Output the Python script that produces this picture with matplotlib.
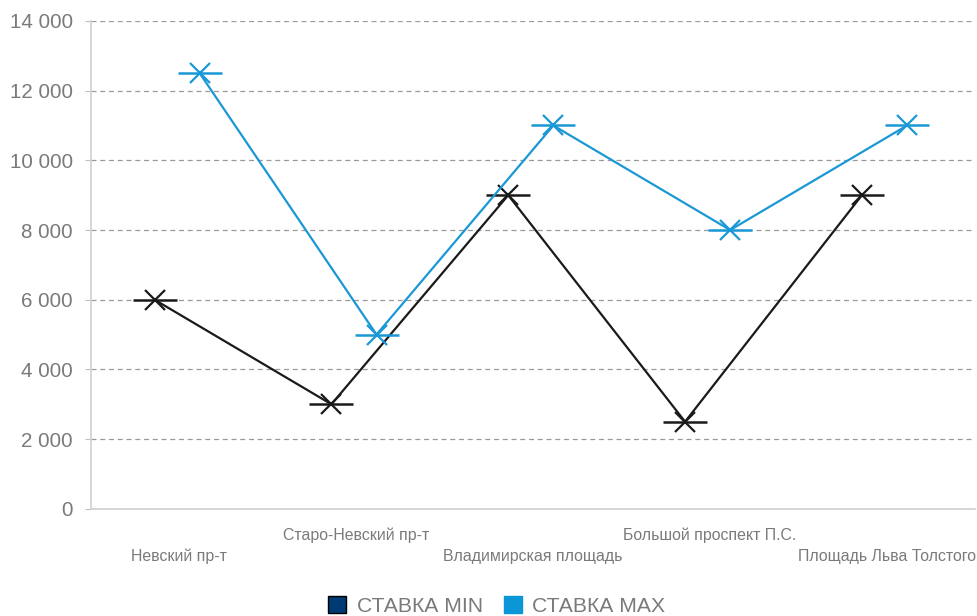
import matplotlib
matplotlib.use("Agg")
import matplotlib.pyplot as plt
import matplotlib.transforms as mtransforms
from matplotlib.patches import Patch
import numpy as np

plt.rcParams['font.family'] = ['Liberation Sans', 'DejaVu Sans']

# данные
categories = ["Невский пр-т", "Старо-Невский пр-т", "Владимирская площадь",
              "Большой проспект П.С.", "Площадь Льва Толстого"]
stavka_min = [6000, 3000, 9000, 2500, 9000]
stavka_max = [12500, 5000, 11000, 8000, 11000]
y_ticks = [0, 2000, 4000, 6000, 8000, 10000, 12000, 14000]

col_min = "#1a1a1a"
col_max = "#1a98d5"
gray = "#7a7a7a"

fig = plt.figure(figsize=(9.78, 6.16), dpi=100)
ax = fig.add_axes([0.093, 0.174, 0.904, 0.792])

x = np.arange(len(categories))
off_min, off_max = -0.14, 0.115

# линии + маркеры (крест и горизонтальная черта)
ax.plot(x + off_min, stavka_min, color=col_min, lw=1.6, marker='x', ms=14, mew=1.6, zorder=3)
ax.plot(x + off_min, stavka_min, ls='none', color=col_min, marker='_', ms=32, mew=1.8, zorder=3)
ax.plot(x + off_max, stavka_max, color=col_max, lw=1.6, marker='x', ms=14, mew=1.6, zorder=4)
ax.plot(x + off_max, stavka_max, ls='none', color=col_max, marker='_', ms=32, mew=1.8, zorder=4)

ax.set_xlim(-0.5, len(categories) - 0.5)
ax.set_ylim(0, 14000)
ax.set_yticks(y_ticks)
ax.set_yticklabels([f"{v:,.0f}".replace(",", " ") for v in y_ticks], fontsize=14.8, color=gray)
ax.yaxis.grid(True, ls=(0, (4, 3)), color="#9a9a9a", lw=0.9)
ax.set_axisbelow(True)

ax.set_xticks([])
ax.tick_params(axis='y', length=4, color="#bfbfbf", pad=9)
for s in ['top', 'right']:
    ax.spines[s].set_visible(False)
ax.spines['left'].set_color("#d0d0d0")
ax.spines['bottom'].set_color("#d0d0d0")
ax.spines['left'].set_linewidth(1.2)
ax.spines['bottom'].set_linewidth(1.2)

# подписи категорий в шахматном порядке
trans = mtransforms.blended_transform_factory(ax.transData, ax.transAxes)
for i, lab in enumerate(categories):
    yy = -0.055 if i % 2 else -0.097
    ax.text(i, yy, lab, transform=trans, ha='center', va='center', fontsize=11.4, color=gray)

handles = [Patch(facecolor="#003a73", edgecolor="#000000", lw=1.0),
           Patch(facecolor="#0b97d7", edgecolor="#0b97d7")]
fig.legend(handles, ["СТАВКА MIN", "СТАВКА MAX"], loc='center', bbox_to_anchor=(0.508, 0.016),
           ncol=2, frameon=False, fontsize=15.2, labelcolor=gray, handlelength=0.85,
           handleheight=0.85, handletextpad=0.5, columnspacing=1.0)

fig.savefig("out.png", dpi=100)
